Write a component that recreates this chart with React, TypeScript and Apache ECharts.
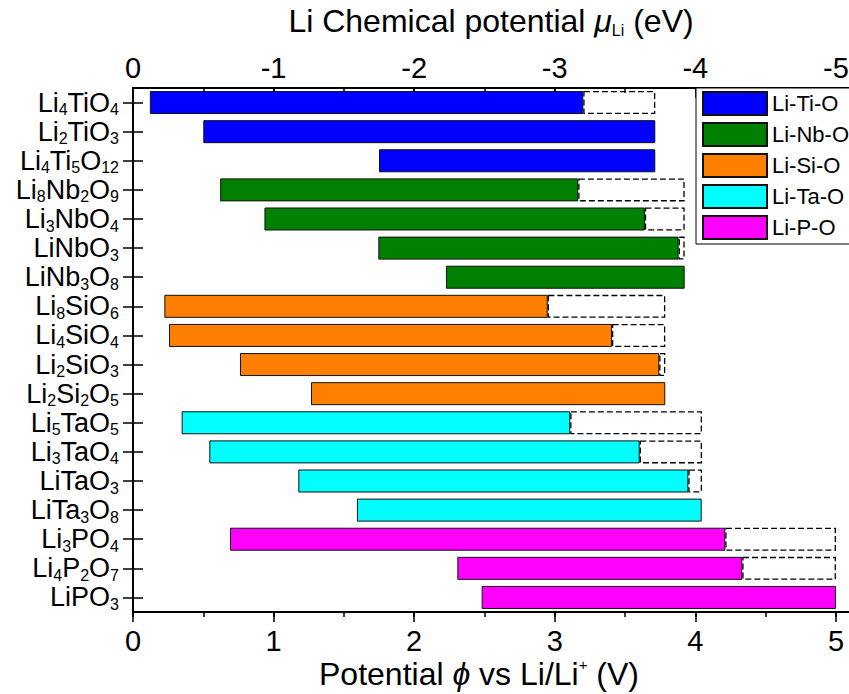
import React, { useEffect, useRef } from 'react';
import * as echarts from 'echarts';

const FONT = "'Liberation Sans', Arial, Helvetica, sans-serif";

const compounds = ['Li4TiO4', 'Li2TiO3', 'Li4Ti5O12', 'Li8Nb2O9', 'Li3NbO4', 'LiNbO3', 'LiNb3O8', 'Li8SiO6', 'Li4SiO4', 'Li2SiO3', 'Li2Si2O5', 'Li5TaO5', 'Li3TaO4', 'LiTaO3', 'LiTa3O8', 'Li3PO4', 'Li4P2O7', 'LiPO3'];
const families = ['Li-Ti-O', 'Li-Nb-O', 'Li-Si-O', 'Li-Ta-O', 'Li-P-O'];
const familyOf = [0, 0, 0, 1, 1, 1, 1, 2, 2, 2, 2, 3, 3, 3, 3, 4, 4, 4];
const familyColors = ['#0000ff', '#008000', '#ff8000', '#00ffff', '#ff00ff'];
// reduction potential (bar start), oxidation potential (solid bar end), thermodynamic limit (dashed end)
const reductionV = [0.12, 0.5, 1.75, 0.62, 0.935, 1.745, 2.226, 0.223, 0.256, 0.761, 1.266, 0.346, 0.543, 1.176, 1.593, 0.69, 2.307, 2.48];
const oxidationV = [3.203, 3.715, 3.715, 3.167, 3.641, 3.881, 3.924, 2.95, 3.407, 3.743, 3.786, 3.11, 3.604, 3.95, 4.045, 4.213, 4.334, 5.0];
const limitV: (number | null)[] = [3.715, null, null, 3.924, 3.924, 3.924, null, 3.786, 3.786, 3.786, null, 4.047, 4.047, 4.047, null, 5.0, 5.0, null];
const bottomTickLabels = ['0', '1', '2', '3', '4', '5'];
const topTickLabels = ['0', '-1', '-2', '-3', '-4', '-5'];

function formulaRich(s: string): string {
  const parts = s.match(/[A-Za-z]+|\d+/g) || [];
  return parts.map((p) => (/\d/.test(p) ? `{s|${p}}` : `{n|${p}}`)).join('');
}

function tickFormatter(labels: string[]) {
  return (v: number) => {
    const r = Math.round(v);
    if (Math.abs(v - r) > 1e-6) return '';
    return labels[r] ?? '';
  };
}

export default function App() {
  const ref = useRef<HTMLDivElement>(null);
  useEffect(() => {
    if (!ref.current) return;
    const chart = echarts.init(ref.current, undefined, { renderer: 'svg' });
    const XMAX = 5.1;
    const majorAxis = (pos: 'top' | 'bottom', labels: string[], inside: boolean, margin: number) => ({
      type: 'value',
      position: pos,
      min: 0,
      max: XMAX,
      interval: 1,
      axisLine: { show: true, lineStyle: { color: '#000', width: 2 } },
      axisTick: { show: true, inside, length: 10, lineStyle: { color: '#000', width: 1.5 } },
      axisLabel: {
        formatter: tickFormatter(labels),
        fontSize: 29,
        fontFamily: FONT,
        color: '#000',
        margin,
        showMaxLabel: false,
      },
      splitLine: { show: false },
    });
    const minorAxis = (pos: 'top' | 'bottom', inside: boolean) => ({
      type: 'value',
      position: pos,
      min: 0,
      max: XMAX,
      interval: 0.5,
      axisLine: { show: false },
      axisTick: { show: true, inside, length: 5, lineStyle: { color: '#000', width: 1.5 } },
      axisLabel: { show: false },
      splitLine: { show: false },
    });
    const catAxis = (pos: 'left' | 'right', showLabel: boolean) => ({
      type: 'category',
      position: pos,
      data: compounds,
      inverse: true,
      axisLine: { show: pos === 'left', lineStyle: { color: '#000', width: 2 } },
      axisTick: { show: true, inside: true, length: 10, alignWithLabel: true, lineStyle: { color: '#000', width: 1.5 } },
      axisLabel: {
        show: showLabel,
        margin: 14,
        formatter: (v: string) => formulaRich(v),
        rich: {
          n: { fontSize: 27, lineHeight: 30, fontFamily: FONT, color: '#000' },
          s: { fontSize: 16, lineHeight: 24, verticalAlign: 'bottom', fontFamily: FONT, color: '#000' },
        },
      },
      splitLine: { show: false },
    });

    const barW = 23;
    const series: any[] = [
      {
        type: 'bar',
        name: 'base',
        stack: 'v',
        barWidth: barW,
        silent: true,
        itemStyle: { color: 'rgba(0,0,0,0)' },
        emphasis: { disabled: true },
        data: reductionV,
      },
      ...families.map((f, k) => ({
        type: 'bar',
        name: f,
        stack: 'v',
        barWidth: barW,
        itemStyle: { color: familyColors[k], borderColor: '#111', borderWidth: 1 },
        emphasis: { disabled: true },
        data: compounds.map((_, i) => (familyOf[i] === k ? oxidationV[i] - reductionV[i] : '-')),
      })),
      {
        type: 'bar',
        name: 'limit',
        stack: 'v',
        barWidth: barW,
        itemStyle: { color: 'rgba(255,255,255,0)', borderColor: '#000', borderWidth: 1.3, borderType: [6, 3] },
        emphasis: { disabled: true },
        data: compounds.map((_, i) => (limitV[i] == null ? '-' : (limitV[i] as number) - oxidationV[i])),
      },
    ];

    chart.setOption({
      animation: false,
      backgroundColor: '#fff',
      textStyle: { fontFamily: FONT },
      grid: { left: 133, top: 88, width: 717, height: 524, containLabel: false },
      xAxis: [
        majorAxis('bottom', bottomTickLabels, false, 14),
        majorAxis('top', topTickLabels, true, 6),
        minorAxis('bottom', false),
        minorAxis('top', true),
      ],
      yAxis: [catAxis('left', true), catAxis('right', false)],
      legend: {
        data: families,
        orient: 'vertical',
        left: 696,
        top: 88,
        padding: [3, 16, 4, 6],
        itemWidth: 64,
        itemHeight: 23,
        itemGap: 6,
        icon: 'rect',
        backgroundColor: '#fff',
        borderColor: '#000',
        borderWidth: 1,
        borderRadius: 0,
        selectedMode: false,
        textStyle: { fontSize: 22, fontFamily: FONT, color: '#000', lineHeight: 23 },
      },
      graphic: [
        {
          type: 'text',
          x: 491,
          y: 21,
          style: {
            text: '{a|Li Chemical potential }{m|μ}{b|Li}{a| (eV)}',
            align: 'center',
            verticalAlign: 'middle',
            fill: '#000',
            rich: {
              a: { fontSize: 32, lineHeight: 34, fontFamily: FONT, fill: '#000' },
              m: { fontSize: 32, lineHeight: 34, fontFamily: FONT, fontStyle: 'italic', fill: '#000' },
              b: { fontSize: 16, lineHeight: 10, verticalAlign: 'bottom', fontFamily: FONT, fill: '#000' },
            },
          },
        },
        {
          type: 'text',
          x: 479,
          y: 674,
          style: {
            text: '{a|Potential }{m|ϕ}{a| vs Li/Li}{p|+}{a| (V)}',
            align: 'center',
            verticalAlign: 'middle',
            fill: '#000',
            rich: {
              a: { fontSize: 32, lineHeight: 34, fontFamily: FONT, fill: '#000' },
              m: { fontSize: 32, lineHeight: 34, fontFamily: FONT, fontStyle: 'italic', fill: '#000' },
              p: { fontSize: 15, lineHeight: 12, verticalAlign: 'top', fontFamily: FONT, fill: '#000' },
            },
          },
        },
      ],
      series,
    });
    return () => chart.dispose();
  }, []);

  return (
    <div style={{ position: 'fixed', left: 0, top: 0, width: 849, height: 694, overflow: 'hidden', background: '#fff' }}>
      <div ref={ref} style={{ width: 880, height: 694 }} />
    </div>
  );
}
